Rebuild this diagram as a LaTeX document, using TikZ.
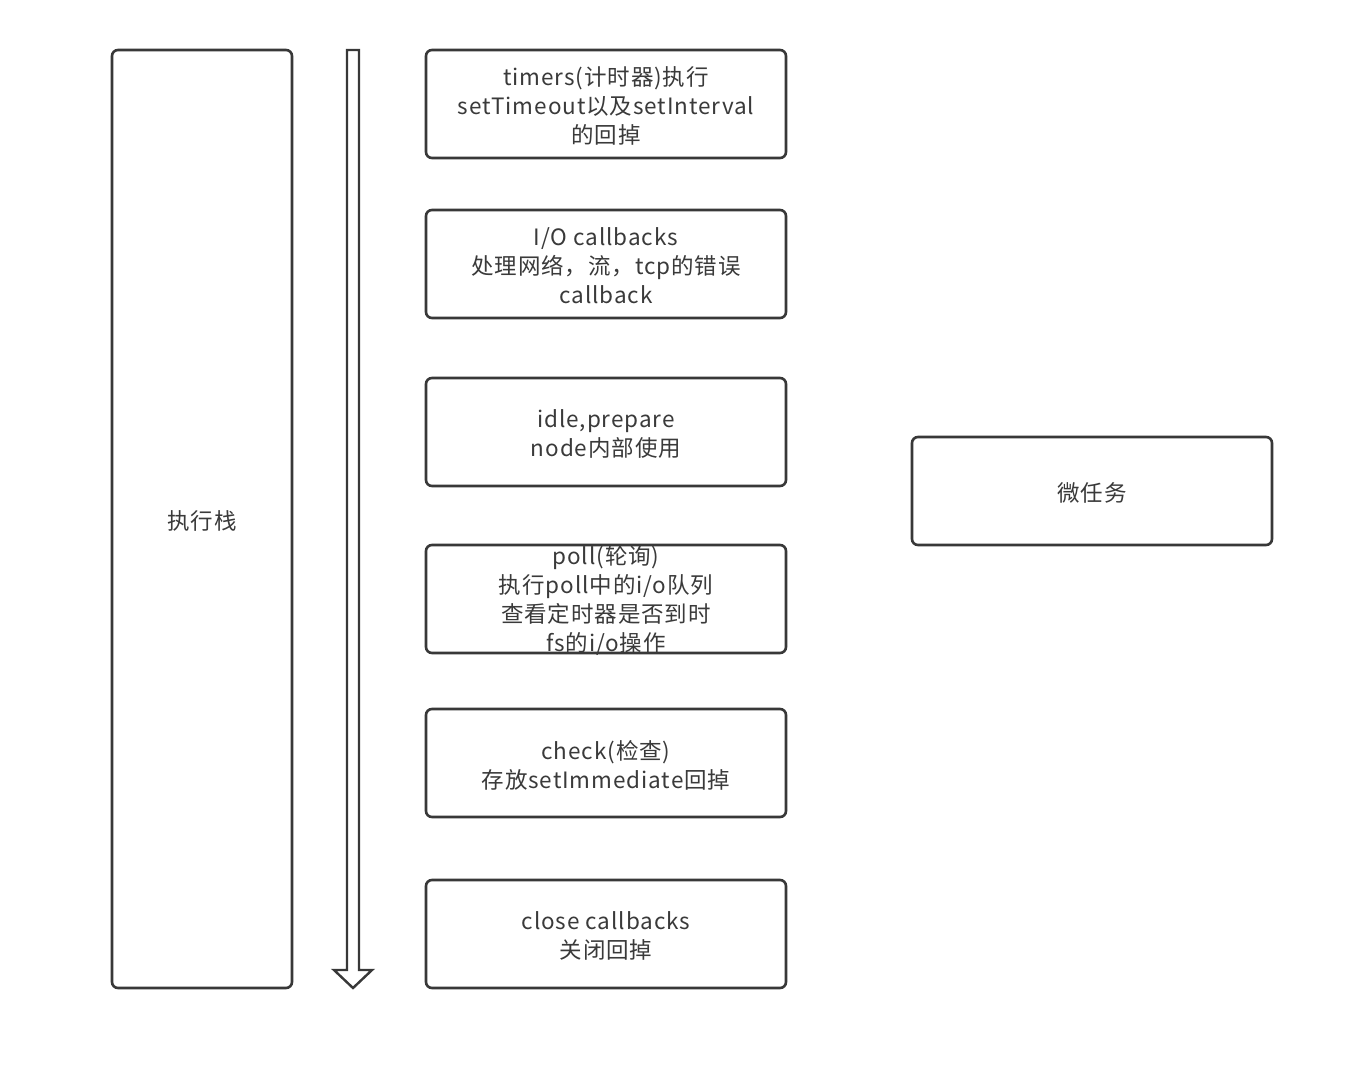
\documentclass[tikz,border=0pt]{standalone}
\usepackage{fontspec}
\setmainfont[LetterSpace=4]{Noto Sans CJK SC}
\begin{document}
\begin{tikzpicture}[x=1pt,y=-1pt,
  box/.style={draw=linec, line width=2.6pt, rounded corners=6pt, minimum width=360pt, minimum height=108pt, inner sep=0pt},
  txt/.style={text=textc, align=center, font=\fontsize{22.5}{29}\selectfont, inner sep=0pt, yshift=-2pt}]
\definecolor{linec}{HTML}{383838}
\definecolor{textc}{HTML}{3A3A3A}
\useasboundingbox (0,0) rectangle (1372,1068);
\fill[white] (0,0) rectangle (1372,1068);
% stack
\node[box, minimum width=180pt, minimum height=938pt] (stack) at (202,519) {};
\node[txt] (stackt) at (stack) {执行栈};
% arrow
\draw[linec, line width=2.4pt, line join=miter]
  (347,50) -- (359,50) -- (359,970) -- (372,970) -- (353,988) -- (334,970) -- (347,970) -- cycle;
% phases
\node[box] (b1) at (606,104) {};
\node[txt] (t1) at (b1) {timers(计时器)执行\\setTimeout以及setInterval\\的回掉};
\node[box] (b2) at (606,264) {};
\node[txt] (t2) at (b2) {I/O callbacks\\处理网络，流，tcp的错误\\callback};
\node[box] (b3) at (606,432) {};
\node[txt] (t3) at (b3) {idle,prepare\\node内部使用};
\node[box] (b4) at (606,599) {};
\node[txt] (t4) at (606,599) {poll(轮询)\\执行poll中的i/o队列\\查看定时器是否到时\\fs的i/o操作};
\node[box] (b5) at (606,763) {};
\node[txt] (t5) at (b5) {check(检查)\\存放setImmediate回掉};
\node[box] (b6) at (606,934) {};
\node[txt] (t6) at (b6) {close callbacks\\关闭回掉};
% micro
\node[box] (m) at (1092,491) {};
\node[txt] (mt) at (m) {微任务};
\end{tikzpicture}
\end{document}
